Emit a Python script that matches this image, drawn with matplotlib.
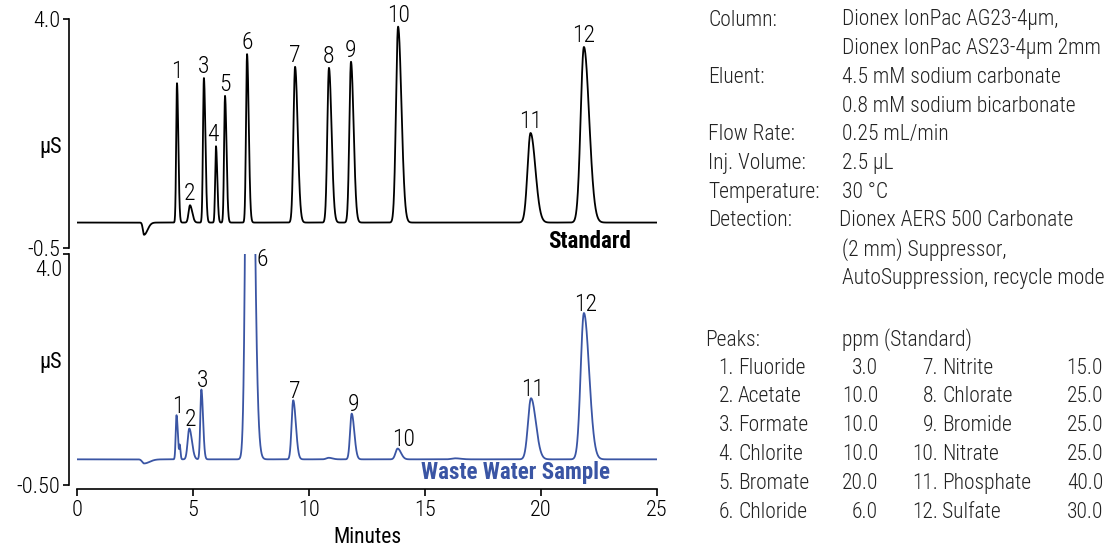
import matplotlib
matplotlib.use('Agg')

import numpy as np
import matplotlib.pyplot as plt

plt.rcParams['font.family'] = ['Roboto Condensed', 'Liberation Sans', 'DejaVu Sans']
plt.rcParams['font.weight'] = 'light'

# peak data (retention time, height, width)
std_labels = ['1', '2', '3', '4', '5', '6', '7', '8', '9', '10', '11', '12']
std_times = [4.31, 4.87, 5.47, 5.99, 6.38, 7.33, 9.40, 10.86, 11.81, 13.84, 19.55, 21.85]
std_heights = [2.74, 0.34, 2.84, 1.50, 2.49, 3.31, 3.06, 3.04, 3.16, 3.85, 1.76, 3.45]
std_sigmas = [0.035, 0.06, 0.04, 0.035, 0.04, 0.045, 0.07, 0.07, 0.07, 0.09, 0.13, 0.14]
std_dip = (2.89, -0.24, 0.05)

smp_labels = ['1', '2', '3', '6', '7', '9', '10', '11', '12']
smp_times = [4.29, 4.84, 5.36, 7.41, 9.32, 11.84, 13.82, 19.57, 21.85]
smp_heights = [0.86, 0.60, 1.36, 14.0, 1.15, 0.89, 0.21, 1.19, 2.85]
smp_sigmas = [0.035, 0.07, 0.045, 0.11, 0.07, 0.07, 0.09, 0.13, 0.14]
# small unlabelled bumps in the sample trace
smp_minor_times = [4.43, 10.85, 16.3]
smp_minor_heights = [0.25, 0.03, 0.02]
smp_minor_sigmas = [0.02, 0.1, 0.15]
smp_dip = (2.89, -0.08, 0.08)

conditions = [
    ('Column:', 'Dionex IonPac AG23-4µm,'),
    ('', 'Dionex IonPac AS23-4µm 2mm'),
    ('Eluent:', '4.5 mM sodium carbonate'),
    ('', '0.8 mM sodium bicarbonate'),
    ('Flow Rate:', '0.25 mL/min'),
    ('Inj. Volume:', '2.5 µL'),
    ('Temperature:', '30 °C'),
    ('Detection:', 'Dionex AERS 500 Carbonate'),
    ('', '(2 mm) Suppressor,'),
    ('', 'AutoSuppression, recycle mode'),
]
peak_names = ['Fluoride', 'Acetate', 'Formate', 'Chlorite', 'Bromate', 'Chloride',
              'Nitrite', 'Chlorate', 'Bromide', 'Nitrate', 'Phosphate', 'Sulfate']
peak_ppm = ['3.0', '10.0', '10.0', '10.0', '20.0', '6.0',
            '15.0', '25.0', '25.0', '25.0', '40.0', '30.0']

BLUE = '#3a55a4'
FS = 15.5
LFS = 17
W, H = 1110, 548
t = np.linspace(0, 25, 6001)


def peak(center, height, sigma, tail=1.6):
    s = np.where(t < center, sigma, sigma * tail)
    return height * np.exp(-0.5 * ((t - center) / s) ** 2)


def trace(times, heights, sigmas, dip):
    y = np.zeros_like(t)
    for c, h, s in zip(times, heights, sigmas):
        y += peak(c, h, s)
    y += peak(*dip, tail=3)
    return y


std_y = trace(std_times, std_heights, std_sigmas, std_dip)
smp_y = trace(smp_times, smp_heights, smp_sigmas, smp_dip)
for c, h, s in zip(smp_minor_times, smp_minor_heights, smp_minor_sigmas):
    smp_y += peak(c, h, s)

fig = plt.figure(figsize=(W / 100, H / 100), dpi=100)
ax1 = fig.add_axes([77 / W, 1 - 248 / H, 580 / W, 229 / H])
ax2 = fig.add_axes([77 / W, 1 - 485 / H, 580 / W, 231 / H])


def ftext(x, y, s, **kw):
    kw.setdefault('fontsize', FS)
    kw.setdefault('color', '#222222')
    fig.text(x / W, 1 - y / H, s, va='center', **kw)


for ax in (ax1, ax2):
    ax.set_xlim(0, 25)
    ax.set_ylim(-0.5, 4.0)
    for sp in ('top', 'right'):
        ax.spines[sp].set_visible(False)
    ax.spines['left'].set_position(('outward', 6))
    ax.spines['left'].set_linewidth(1.2)
    ax.tick_params(axis='y', length=4, width=1.2, labelsize=16, pad=2)
    ax.patch.set_alpha(0)

ax1.spines['bottom'].set_visible(False)
ax1.set_xticks([])
ax1.set_yticks([-0.5, 4.0])
ax1.set_yticklabels(['-0.5', '4.0'])
ax1.plot(t, std_y, color='black', lw=1.3)

ax2.set_yticks([-0.5, 4.0])
ax2.set_yticklabels(['-0.50', ''])
ftext(62, 270, '4.0', ha='right', fontsize=16, color='black')
ax2.spines['bottom'].set_position(('outward', 3))
ax2.spines['bottom'].set_linewidth(1.2)
ax2.set_xticks([0, 5, 10, 15, 20, 25])
ax2.tick_params(axis='x', length=5, width=1.2, labelsize=16, pad=3)
ax2.set_xlabel('Minutes', fontsize=15.5, labelpad=4)
ax2.plot(t, smp_y, color=BLUE, lw=1.3)

for ax, yy in ((ax1, 0.44), (ax2, 0.53)):
    ax.set_ylabel('µS', rotation=0, fontsize=16, ha='right', va='center')
    ax.yaxis.set_label_coords(-0.026, yy)

# peak numbers
for name, c, h in zip(std_labels, std_times, std_heights):
    dx = -2 if name == '4' else 0
    ax1.annotate(name, (c, h), xytext=(dx, 0), textcoords='offset points',
                 ha='center', va='bottom', fontsize=LFS)
for name, c, h in zip(smp_labels, smp_times, smp_heights):
    if name == '6':
        ax2.text(7.98, 3.9, name, ha='center', va='center', fontsize=LFS)
        continue
    dx = 4 if name == '10' else 1
    ax2.annotate(name, (c, h), xytext=(dx, -2), textcoords='offset points',
                 ha='center', va='bottom', fontsize=LFS)

ax1.text(23.9, -0.38, 'Standard', ha='right', va='center', fontsize=16.5,
         fontweight='bold', clip_on=False)
ax2.text(22.97, -0.25, 'Waste Water Sample', ha='right', va='center', fontsize=16.5,
         fontweight='bold', color=BLUE, clip_on=False)

for i, (k, v) in enumerate(conditions):
    y = 20 + i * 28.7
    if k:
        ftext(708, y, k)
    ftext(839 if k == 'Detection:' else 842, y, v)

ftext(705, 340, 'Peaks:')
ftext(842, 340, 'ppm (Standard)')
for i in range(12):
    col, row = divmod(i, 6)
    y = 368 + row * 28.8
    xn = 734 if col == 0 else 938
    xc = 878 if col == 0 else 1103
    ftext(xn, y, '%d.' % (i + 1), ha='right')
    ftext(xn + 4, y, peak_names[i])
    ftext(xc, y, peak_ppm[i], ha='right')

fig.savefig('out.png', dpi=100)
